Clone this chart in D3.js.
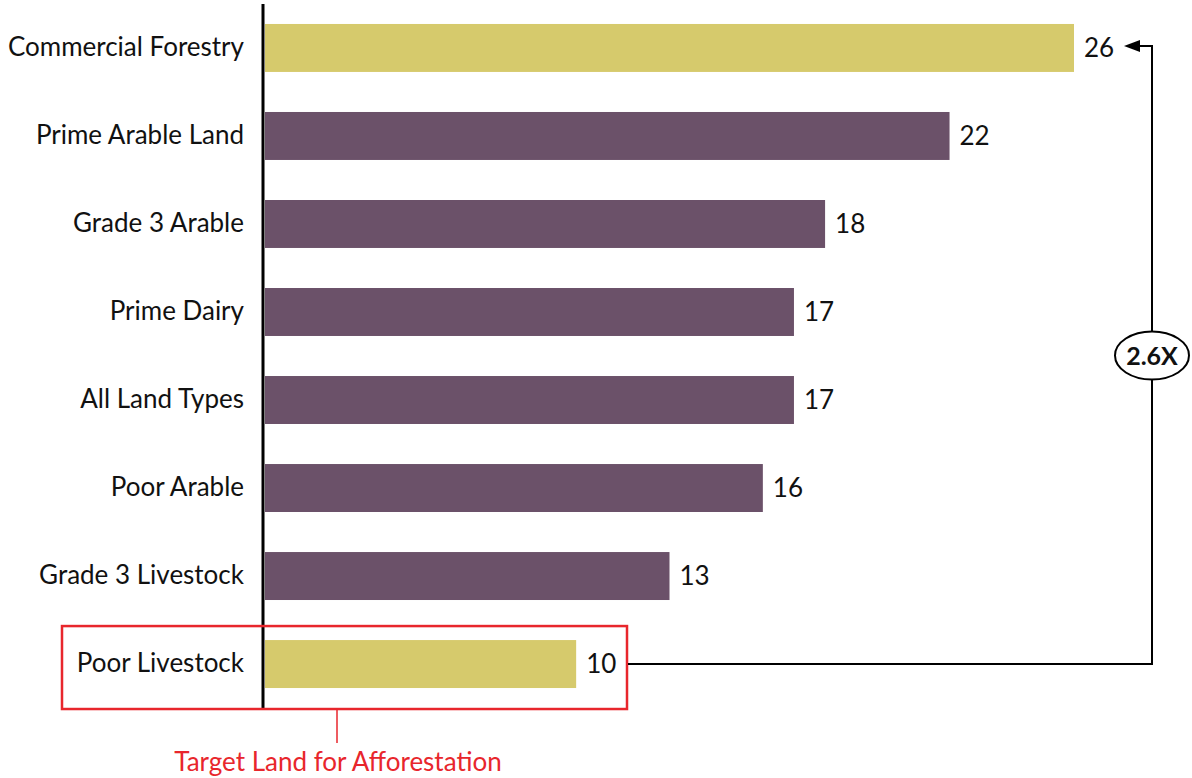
<!DOCTYPE html>
<html>
<head>
<meta charset="utf-8">
<script src="https://cdn.jsdelivr.net/npm/d3@7"></script>
<style>
  html, body { margin: 0; padding: 0; background: #fff; }
  svg { display: block; font-family: Lato, "Open Sans", sans-serif; }
</style>
</head>
<body>
<svg id="chart" width="1192" height="778"></svg>
<script>
// Land types ranked, top to bottom
const categories = [
  "Commercial Forestry",
  "Prime Arable Land",
  "Grade 3 Arable",
  "Prime Dairy",
  "All Land Types",
  "Poor Arable",
  "Grade 3 Livestock",
  "Poor Livestock"
];
const values = [26, 22, 18, 17, 17, 16, 13, 10];
const highlighted = ["Commercial Forestry", "Poor Livestock"];
const ratioLabel = "2.6X";
const targetLabel = "Target Land for Afforestation";

const gold = "#d6ca6c";
const purple = "#6b5169";
const red = "#e8262c";
const fontSize = 26;

const svg = d3.select("#chart");

const x = d3.scaleLinear().domain([0, 26]).range([265, 1074]);
const y = d3.scaleBand().domain(categories).range([4, 708]).paddingInner(0.455).paddingOuter(0.227);

const rows = categories.map((c, i) => ({ cat: c, val: values[i] }));

// bars
svg.append("g").selectAll("rect").data(rows).join("rect")
  .attr("x", x(0))
  .attr("y", d => y(d.cat))
  .attr("width", d => x(d.val) - x(0))
  .attr("height", y.bandwidth())
  .attr("fill", d => highlighted.includes(d.cat) ? gold : purple);

// value labels
svg.append("g").selectAll("text").data(rows).join("text")
  .attr("x", d => x(d.val) + 10)
  .attr("y", d => y(d.cat) + y.bandwidth() / 2)
  .attr("dy", "0.36em")
  .attr("font-size", fontSize)
  .attr("fill", "#111")
  .text(d => d.val);

// category axis
const yAxis = d3.axisLeft(y).tickSize(0).tickPadding(19);
const ag = svg.append("g").attr("transform", "translate(263,0)").call(yAxis);
ag.select(".domain").attr("stroke", "#000").attr("stroke-width", 3).attr("d", "M0,4V708");
ag.selectAll(".tick text").attr("font-size", fontSize).attr("fill", "#111").attr("font-family", "Lato, 'Open Sans', sans-serif");

// highlight box around the target row
const last = categories[categories.length - 1];
const boxTop = y(last) - 14, boxBottom = y(last) + y.bandwidth() + 21;
svg.append("rect")
  .attr("x", 62).attr("y", boxTop)
  .attr("width", 565).attr("height", boxBottom - boxTop)
  .attr("fill", "none").attr("stroke", red).attr("stroke-width", 2.5);

svg.append("line")
  .attr("x1", 337).attr("x2", 337)
  .attr("y1", boxBottom).attr("y2", 743)
  .attr("stroke", red).attr("stroke-width", 1.5);

svg.append("text")
  .attr("x", 338).attr("y", 771)
  .attr("text-anchor", "middle")
  .attr("font-size", fontSize)
  .attr("fill", red)
  .text(targetLabel);

// connector comparing the lowest and highest rows
const yLow = y(last) + y.bandwidth() / 2;
const yHigh = y(categories[0]) + y.bandwidth() / 2 - 2;
const xRight = 1152;
svg.append("path")
  .attr("d", `M628,${yLow}H${xRight}V${yHigh}H1134`)
  .attr("fill", "none").attr("stroke", "#000").attr("stroke-width", 2);

svg.append("path")
  .attr("d", `M1140,${yHigh - 6}L1124,${yHigh}L1140,${yHigh + 6}Z`)
  .attr("fill", "#000");

const ey = 355.5;
svg.append("ellipse")
  .attr("cx", xRight).attr("cy", ey)
  .attr("rx", 37).attr("ry", 24)
  .attr("fill", "#fff").attr("stroke", "#000").attr("stroke-width", 2);
svg.append("text")
  .attr("x", xRight).attr("y", ey)
  .attr("dy", "0.36em")
  .attr("text-anchor", "middle")
  .attr("font-size", 25).attr("font-weight", "bold")
  .attr("fill", "#111")
  .text(ratioLabel);
</script>
</body>
</html>
